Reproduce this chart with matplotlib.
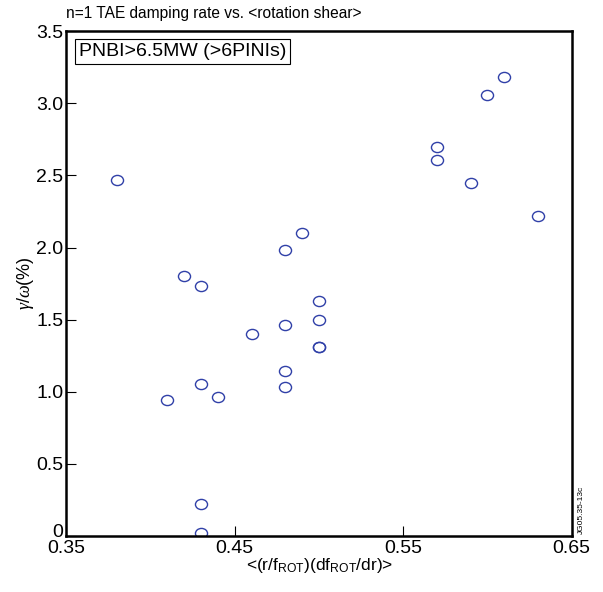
import numpy as np
import matplotlib
matplotlib.use("Agg")
import matplotlib.pyplot as plt
from matplotlib.path import Path
from matplotlib.transforms import ScaledTranslation

plt.rcParams["font.family"] = ["Liberation Sans", "DejaVu Sans"]
plt.rcParams["mathtext.fontset"] = "custom"
plt.rcParams["mathtext.rm"] = "Liberation Sans"
plt.rcParams["mathtext.it"] = "Liberation Serif:italic"

# rotation shear vs. damping rate
shear = [0.38, 0.49, 0.48, 0.42, 0.43, 0.50, 0.50, 0.48, 0.46, 0.50, 0.50,
         0.48, 0.43, 0.48, 0.44, 0.41, 0.43, 0.43,
         0.61, 0.60, 0.57, 0.57, 0.59, 0.63]
gamma = [2.47, 2.10, 1.98, 1.80, 1.73, 1.63, 1.50, 1.46, 1.40, 1.31, 1.31,
         1.14, 1.05, 1.03, 0.96, 0.94, 0.22, 0.02,
         3.18, 3.06, 2.70, 2.61, 2.45, 2.22]

xticks = [0.35, 0.45, 0.55, 0.65]
yticks = [0, 0.5, 1.0, 1.5, 2.0, 2.5, 3.0, 3.5]
ylabels = ["0", "0.5", "1.0", "1.5", "2.0", "2.5", "3.0", "3.5"]

# slightly flattened circle marker
circ = Path.unit_circle()
ellipse = Path(circ.vertices * np.array([1.0, 0.84]), circ.codes)

fig = plt.figure(figsize=(6.03, 5.92), dpi=100)
ax = fig.add_axes([0.110, 0.095, 0.838, 0.852])

ax.plot(shear, gamma, linestyle="none", marker=ellipse, markersize=8.7,
        markerfacecolor="none", markeredgecolor="#3040a8", markeredgewidth=1.0)

ax.set_xlim(0.35, 0.65)
ax.set_ylim(0, 3.5)
ax.set_xticks(xticks)
ax.set_xticklabels([f"{t:.2f}" for t in xticks])
ax.set_yticks(yticks)
ax.set_yticklabels(ylabels)
ax.tick_params(direction="in", length=7, width=0.8, labelsize=14)
ax.tick_params(axis="x", pad=3.2)
ax.tick_params(axis="y", pad=2.2)

# lift the "0" label so it clears the 0.35 label
lbl0 = ax.get_yticklabels()[0]
lbl0.set_transform(lbl0.get_transform() + ScaledTranslation(0, 4 / 72, fig.dpi_scale_trans))

for s in ax.spines.values():
    s.set_linewidth(1.8)

ax.set_xlabel(r"<(r/f$_{\mathregular{ROT}}$)(df$_{\mathregular{ROT}}$/dr)>",
              fontsize=12.5, va="center")
ax.xaxis.set_label_coords(0.501, -0.058)
ax.set_ylabel(r"$\mathit{\gamma/\omega}$(%)", fontsize=13, va="center")
ax.yaxis.set_label_coords(-0.081, 0.5)

ax.set_title("n=1 TAE damping rate vs. <rotation shear>", loc="left",
             fontsize=11.2, pad=9.5)

ax.text(0.025, 0.977, "PNBI>6.5MW (>6PINIs)", transform=ax.transAxes,
        fontsize=14, va="top", ha="left",
        bbox=dict(facecolor="white", edgecolor="black", linewidth=0.8, pad=3))

fig.text(0.9635, 0.139, "JG05.35-13c", rotation=90, fontsize=6,
         ha="center", va="center")

fig.savefig("out.png", dpi=100)
